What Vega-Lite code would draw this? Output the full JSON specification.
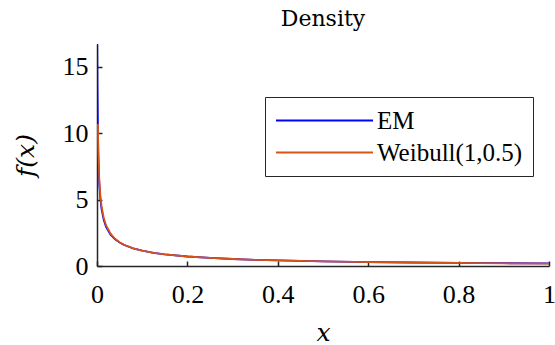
{
  "$schema": "https://vega.github.io/schema/vega-lite/v6.json",
  "width": 452,
  "height": 222,
  "autosize": {"type": "none"},
  "padding": {"left": 97, "top": 44, "right": 6, "bottom": 79},
  "background": "white",
  "title": {"text": "Density", "font": "DejaVu Serif", "fontSize": 22, "fontWeight": "normal", "color": "#000000", "offset": 13},
  "data": {"values": [
    {"x": 0.0005, "y": 16.7, "series": "EM"},
    {"x": 0.001, "y": 13.6, "series": "EM"},
    {"x": 0.002, "y": 10.2, "series": "EM"},
    {"x": 0.003, "y": 8.2, "series": "EM"},
    {"x": 0.005, "y": 6.2, "series": "EM"},
    {"x": 0.0075, "y": 5.0, "series": "EM"},
    {"x": 0.01, "y": 4.3, "series": "EM"},
    {"x": 0.015, "y": 3.45, "series": "EM"},
    {"x": 0.02, "y": 2.95, "series": "EM"},
    {"x": 0.03, "y": 2.36, "series": "EM"},
    {"x": 0.04, "y": 2.0, "series": "EM"},
    {"x": 0.05, "y": 1.76, "series": "EM"},
    {"x": 0.06, "y": 1.58, "series": "EM"},
    {"x": 0.08, "y": 1.32, "series": "EM"},
    {"x": 0.1, "y": 1.15, "series": "EM"},
    {"x": 0.125, "y": 0.99, "series": "EM"},
    {"x": 0.15, "y": 0.875, "series": "EM"},
    {"x": 0.2, "y": 0.715, "series": "EM"},
    {"x": 0.25, "y": 0.607, "series": "EM"},
    {"x": 0.3, "y": 0.528, "series": "EM"},
    {"x": 0.35, "y": 0.468, "series": "EM"},
    {"x": 0.4, "y": 0.421, "series": "EM"},
    {"x": 0.5, "y": 0.35, "series": "EM"},
    {"x": 0.6, "y": 0.299, "series": "EM"},
    {"x": 0.7, "y": 0.262, "series": "EM"},
    {"x": 0.8, "y": 0.233, "series": "EM"},
    {"x": 0.9, "y": 0.21, "series": "EM"},
    {"x": 1.0, "y": 0.192, "series": "EM"},
    {"x": 0.002, "y": 10.69, "series": "Weibull(1,0.5)"},
    {"x": 0.003, "y": 8.64, "series": "Weibull(1,0.5)"},
    {"x": 0.005, "y": 6.59, "series": "Weibull(1,0.5)"},
    {"x": 0.0075, "y": 5.29, "series": "Weibull(1,0.5)"},
    {"x": 0.01, "y": 4.52, "series": "Weibull(1,0.5)"},
    {"x": 0.015, "y": 3.61, "series": "Weibull(1,0.5)"},
    {"x": 0.02, "y": 3.07, "series": "Weibull(1,0.5)"},
    {"x": 0.03, "y": 2.43, "series": "Weibull(1,0.5)"},
    {"x": 0.04, "y": 2.05, "series": "Weibull(1,0.5)"},
    {"x": 0.05, "y": 1.79, "series": "Weibull(1,0.5)"},
    {"x": 0.06, "y": 1.6, "series": "Weibull(1,0.5)"},
    {"x": 0.08, "y": 1.33, "series": "Weibull(1,0.5)"},
    {"x": 0.1, "y": 1.153, "series": "Weibull(1,0.5)"},
    {"x": 0.125, "y": 0.993, "series": "Weibull(1,0.5)"},
    {"x": 0.15, "y": 0.877, "series": "Weibull(1,0.5)"},
    {"x": 0.2, "y": 0.715, "series": "Weibull(1,0.5)"},
    {"x": 0.25, "y": 0.607, "series": "Weibull(1,0.5)"},
    {"x": 0.3, "y": 0.528, "series": "Weibull(1,0.5)"},
    {"x": 0.35, "y": 0.468, "series": "Weibull(1,0.5)"},
    {"x": 0.4, "y": 0.42, "series": "Weibull(1,0.5)"},
    {"x": 0.5, "y": 0.349, "series": "Weibull(1,0.5)"},
    {"x": 0.6, "y": 0.298, "series": "Weibull(1,0.5)"},
    {"x": 0.7, "y": 0.259, "series": "Weibull(1,0.5)"},
    {"x": 0.8, "y": 0.229, "series": "Weibull(1,0.5)"},
    {"x": 0.9, "y": 0.204, "series": "Weibull(1,0.5)"},
    {"x": 1.0, "y": 0.184, "series": "Weibull(1,0.5)"}
  ]},
  "mark": {"type": "line", "strokeWidth": 1.8, "clip": true},
  "encoding": {
    "x": {"field": "x", "type": "quantitative",
      "scale": {"domain": [0, 1], "nice": false, "zero": false},
      "axis": {"values": [0, 0.2, 0.4, 0.6, 0.8, 1], "format": "~g", "grid": false, "domainColor": "#262626", "domainWidth": 1.5, "tickColor": "#262626", "tickSize": -5, "tickWidth": 1.5, "labelFont": "Liberation Serif", "labelFontSize": 26, "labelColor": "#000000", "labelPadding": 20, "labelFlush": false, "title": "x", "titleFont": "DejaVu Serif", "titleFontStyle": "italic", "titleFontWeight": "normal", "titleFontSize": 25, "titleColor": "#000000", "titlePadding": 13}},
    "y": {"field": "y", "type": "quantitative",
      "scale": {"domain": [0, 16.7], "nice": false, "zero": true},
      "axis": {"values": [0, 5, 10, 15], "grid": false, "domainColor": "#262626", "domainWidth": 1.5, "tickColor": "#262626", "tickSize": -5, "tickWidth": 1.5, "labelFont": "Liberation Serif", "labelFontSize": 26, "labelColor": "#000000", "labelPadding": 14, "labelFlush": false, "title": "f(x)", "titleFont": "DejaVu Serif", "titleFontStyle": "italic", "titleFontWeight": "normal", "titleFontSize": 25, "titleColor": "#000000", "titlePadding": 24}},
    "color": {"field": "series", "type": "nominal",
      "scale": {"domain": ["EM", "Weibull(1,0.5)"], "range": ["#0000FF", "#D95319"]},
      "legend": {"title": null, "orient": "none", "legendX": 168, "legendY": 53, "symbolType": "M-4,0H4", "symbolSize": 588, "symbolStrokeWidth": 2, "symbolOffset": 36, "labelFont": "Liberation Serif", "labelFontSize": 25, "labelColor": "#000000", "labelOffset": 39, "padding": 10, "rowPadding": 5, "strokeColor": "#262626", "fillColor": "white", "labelLimit": 400}}
  },
  "config": {"view": {"stroke": null}}
}
